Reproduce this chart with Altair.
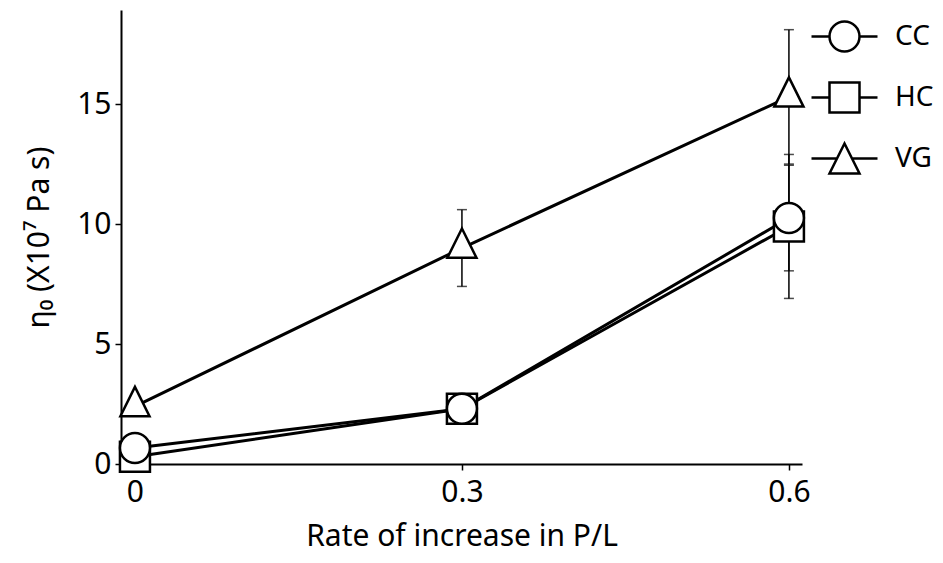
import altair as alt
import pandas as pd

# ---- data ----
x_vals = [0, 0.3, 0.6]
series_names = ["HC", "CC", "VG"]          # drawing order (CC circle over HC square)
cc_vals = [0.67, 2.3, 10.25]
cc_err = [0, 0, 2.2]
hc_vals = [0.3, 2.3, 9.9]
hc_err = [0, 0, 3.0]
vg_vals = [2.4, 9.0, 15.3]
vg_err = [0, 1.6, 2.8]

legend_order = ["CC", "HC", "VG"]
x_ticks = [0, 0.3, 0.6]
y_ticks = [0, 5, 10, 15]

values = {"CC": cc_vals, "HC": hc_vals, "VG": vg_vals}
errors = {"CC": cc_err, "HC": hc_err, "VG": vg_err}

rows = []
for s in series_names:
    for x, v, e in zip(x_vals, values[s], errors[s]):
        rows.append({"series": s, "x": x, "y": v, "err": e,
                     "lo": v - e, "hi": v + e})
df = pd.DataFrame(rows)
err_df = df[df["err"] > 0]

FONT = "Noto Sans"
TRI = "M0,-1.3L-0.97,0.65L0.97,0.65Z"
point_shapes = ["circle", "square", TRI]
legend_shapes = [
    "M-2.2,0L-1,0M1,0L2.2,0M-1,0A1,1 0 1,1 1,0A1,1 0 1,1 -1,0",
    "M-2.2,0L-1,0M1,0L2.2,0M-1,-1L1,-1L1,1L-1,1Z",
    "M-2.2,0L-0.5,0M0.5,0L2.2,0M0,-1L-1,1L1,1Z",
]

xscale = alt.Scale(domain=[-0.0128, 0.612], nice=False, zero=False)
yscale = alt.Scale(domain=[0, 18.92], nice=False, zero=False)

xenc = alt.X("x:Q", scale=xscale,
             axis=alt.Axis(values=x_ticks, title="Rate of increase in P/L",
                           labelExpr="datum.value == 0 ? '0' : format(datum.value, '.1f')",
                           grid=False, labelFlush=False, labelOverlap=False,
                           tickSize=6, tickWidth=1.5, tickColor="black",
                           domainColor="black", domainWidth=2,
                           labelFontSize=30, labelFont=FONT, labelColor="black",
                           labelPadding=7,
                           titleFontSize=30, titleFont=FONT, titleColor="black",
                           titleFontWeight="normal", titlePadding=14))
yenc = alt.Y("y:Q", scale=yscale,
             axis=alt.Axis(values=y_ticks, title="η₀ (X10⁷ Pa s)",
                           grid=False, labelFlush=False, labelOverlap=False,
                           tickSize=6, tickWidth=1.5, tickColor="black",
                           domainColor="black", domainWidth=2,
                           labelFontSize=30, labelFont=FONT, labelColor="black",
                           labelPadding=4,
                           titleFontSize=30, titleFont=FONT, titleColor="black",
                           titleFontWeight="normal", titlePadding=22))

base = alt.Chart(df)

lines = base.mark_line(color="black", strokeWidth=3).encode(
    x=xenc, y=yenc, detail="series:N", order="x:Q")

err_rule = alt.Chart(err_df).mark_rule(color="black", strokeWidth=1.5).encode(
    x="x:Q", y="lo:Q", y2="hi:Q")
cap_lo = alt.Chart(err_df).mark_tick(color="black", orient="horizontal",
                                     size=10, thickness=1.5).encode(x="x:Q", y="lo:Q")
cap_hi = alt.Chart(err_df).mark_tick(color="black", orient="horizontal",
                                     size=10, thickness=1.5).encode(x="x:Q", y="hi:Q")

points = base.mark_point(filled=False, fill="white", fillOpacity=1, stroke="black",
                         strokeWidth=2.5, size=900, opacity=1).encode(
    x="x:Q", y="y:Q",
    shape=alt.Shape("series:N", scale=alt.Scale(domain=legend_order, range=point_shapes),
                    legend=None))

legend_layer = base.mark_point(opacity=0, size=900).encode(
    x="x:Q", y="y:Q",
    shape=alt.Shape("series:N",
                    scale=alt.Scale(domain=legend_order, range=legend_shapes),
                    legend=alt.Legend(title=None, orient="none", legendX=707, legendY=10,
                                      symbolSize=900, symbolOpacity=1,
                                      symbolFillColor="white", symbolStrokeColor="black",
                                      symbolStrokeWidth=2.5, labelOffset=34,
                                      labelFont=FONT, labelFontSize=28, labelColor="black",
                                      rowPadding=20, padding=0)))

chart = alt.layer(lines, err_rule, cap_lo, cap_hi, points, legend_layer).resolve_scale(
    shape="independent"
).properties(
    width=681, height=454,
    autosize=alt.AutoSizeParams(type="none"),
    padding={"left": 121, "top": 10, "right": 141, "bottom": 99},
    background="white",
).configure_view(stroke=None)

chart.save("out.html", embed_options={"renderer": "svg", "actions": False})
